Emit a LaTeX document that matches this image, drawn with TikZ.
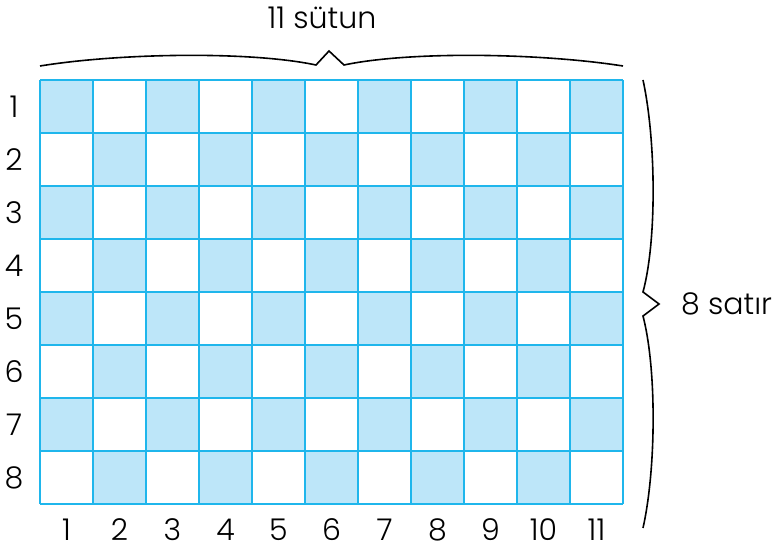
\documentclass[tikz,border=0pt]{standalone}
\usepackage{fontspec}
\setmainfont{Poppins Light}
\definecolor{gridline}{HTML}{1FB6EC}
\definecolor{cellfill}{HTML}{BDE6F9}
\tikzset{
  lbl/.style={font=\fontsize{30}{32}\selectfont, text=black, inner sep=0pt},
  bracepath/.style={draw=black, line width=1.6pt, line join=miter},
  gridpath/.style={draw=gridline, line width=2pt}
}
\begin{document}
\begin{tikzpicture}[x=1pt,y=-1pt]
\useasboundingbox (0,0) rectangle (772,553);
% cells
\foreach \r in {1,...,8}{
  \foreach \c in {1,...,11}{
    \pgfmathtruncatemacro{\myparity}{mod(\r+\c,2)}
    \ifnum\myparity=0
      \fill[cellfill] ({40+(\c-1)*53},{80.5+(\r-1)*53}) rectangle ++(53,53);
    \fi
  }
}
% grid lines
\foreach \c in {0,...,11}{
  \draw[gridpath] ({40+\c*53},80.5) -- ({40+\c*53},504.5);
}
\foreach \r in {0,...,8}{
  \draw[gridpath] (40,{80.5+\r*53}) -- (623,{80.5+\r*53});
}
% row labels
\foreach \r in {1,...,8}{
  \node[lbl] (row\r) at (14,{80.5+(\r-0.5)*53}) {\r};
}
% column labels
\foreach \c in {1,...,11}{
  \node[lbl] (col\c) at ({40+(\c-0.5)*53},530) {\c};
}
% top brace
\draw[bracepath] (40,66) .. controls (120,53) and (250,51) .. (316,65) -- (329,51) -- (344,65) .. controls (410,51) and (540,53) .. (623,66);
% right brace
\draw[bracepath] (643,80) .. controls (656,140) and (657,240) .. (643,292) -- (659,304) -- (643,316) .. controls (657,370) and (656,470) .. (643,528);
% titles
\node[lbl] (cols) at (322,18) {11 sütun};
\node[lbl, anchor=west] (rows) at (681,304) {8 satır};
\end{tikzpicture}
\end{document}
